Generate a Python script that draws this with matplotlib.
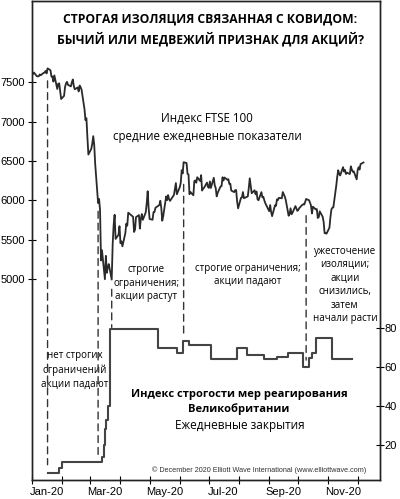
import matplotlib
matplotlib.use('Agg')
import matplotlib.pyplot as plt
import matplotlib.dates as mdates
from matplotlib.patches import ConnectionPatch
import pandas as pd

# FTSE 100 daily closes, one list per month (trading days)
ftse_jan = [7604, 7622, 7575, 7573, 7575, 7598, 7588, 7618, 7622, 7642, 7610,
            7675, 7651, 7571, 7571, 7507, 7586, 7413, 7481, 7484, 7381, 7286]
ftse_feb = [7326, 7439, 7483, 7504, 7466, 7446, 7499, 7534, 7452, 7409,
            7433, 7382, 7457, 7436, 7404, 7157, 7018, 7042, 6796, 6581]
ftse_mar = [6654, 6718, 6815, 6705, 6463, 5966, 6018, 5876, 5237, 5366, 4999,
            5295, 5080, 5151, 5191, 4994, 5446, 5688, 5816, 5510, 5563, 5672]
ftse_apr = [5455, 5480, 5416, 5582, 5704, 5677, 5843, 5791, 5598, 5629,
            5787, 5812, 5641, 5770, 5826, 5752, 5847, 5958, 6115, 5901]
ftse_may = [5763, 5753, 5849, 5853, 5905, 5940, 5994, 5904, 5741, 5800,
            6049, 6002, 6067, 6015, 5993, 6068, 6144, 6219, 6077]
ftse_jun = [6166, 6220, 6382, 6341, 6484, 6473, 6335, 6329, 6077, 6105, 6064,
            6243, 6253, 6224, 6293, 6245, 6320, 6124, 6147, 6159, 6225, 6170]
ftse_jul = [6158, 6240, 6157, 6286, 6190, 6156, 6050, 6095, 6176, 6180, 6293, 6251,
            6290, 6261, 6269, 6207, 6211, 6124, 6104, 6129, 6131, 5990, 5898]
ftse_aug = [6032, 6037, 6105, 6027, 6032, 6050, 6155, 6280, 6186, 6090,
            6127, 6076, 6112, 6013, 6001, 6104, 6037, 6045, 5999, 5964]
ftse_sep = [5862, 5940, 5851, 5799, 5937, 5930, 6012, 6003, 6032, 6026, 6105,
            6078, 6049, 6007, 5804, 5829, 5899, 5823, 5843, 5927, 5897, 5866]
ftse_oct = [5879, 5902, 5942, 5949, 5946, 5978, 6017, 6001, 5970, 5935, 5833,
            5919, 5884, 5889, 5776, 5786, 5860, 5792, 5729, 5583, 5582, 5577]
ftse_nov = [5654, 5786, 5883, 5906, 5910, 6186, 6297, 6382, 6338, 6316, 6421,
            6365, 6385, 6334, 6351, 6334, 6432, 6391, 6362, 6367, 6266]
ftse_dec = [6384, 6420, 6390, 6460, 6480]
uk_holidays = ['2020-01-01', '2020-04-10', '2020-04-13', '2020-05-08',
               '2020-05-25', '2020-08-31']

# UK stringency index, value from each change date onward
strin_dates = ['2020-01-17', '2020-01-29', '2020-02-01', '2020-03-13', '2020-03-15',
               '2020-03-16', '2020-03-17', '2020-03-19', '2020-03-21', '2020-05-10',
               '2020-05-29', '2020-06-04', '2020-06-10', '2020-07-03', '2020-07-30',
               '2020-08-09', '2020-08-27', '2020-09-09', '2020-09-20', '2020-10-06',
               '2020-10-12', '2020-10-15', '2020-10-19', '2020-11-05', '2020-11-25']
strin_vals = [5.56, 8.33, 11.11, 14.0, 20.0, 28.0, 33.0, 40.0, 79.63, 69.91,
              67.13, 73.15, 71.3, 64.35, 69.91, 66.2, 64.1, 65.0, 67.2, 60.0,
              64.8, 67.1, 75.0, 64.0, 64.0]

# dates where a dashed line links the two series
event_dates = ['2020-01-17', '2020-03-09', '2020-03-23', '2020-06-05', '2020-10-09']

ftse_yticks = [5000, 5500, 6000, 6500, 7000, 7500]
strin_yticks = [20, 40, 60, 80]
label_months = [1, 3, 5, 7, 9, 11]

ftse_close = (ftse_jan + ftse_feb + ftse_mar + ftse_apr + ftse_may + ftse_jun +
              ftse_jul + ftse_aug + ftse_sep + ftse_oct + ftse_nov + ftse_dec)
ftse = pd.Series(ftse_close,
                 index=pd.bdate_range('2020-01-02', periods=len(ftse_close),
                                      freq='C', holidays=uk_holidays))
strin = pd.Series(strin_vals, index=pd.to_datetime(strin_dates))

TEXT_FONT = ['Open Sans', 'DejaVu Sans']
TICK_FONT = ['Liberation Sans', 'DejaVu Sans']

fig = plt.figure(figsize=(4.0, 4.99), dpi=100)
ax = fig.add_axes([32 / 400, 19 / 499, 348 / 400, 479 / 499])
ax2 = ax.twinx()

ax.plot(ftse.index, ftse.values, color='#2a2a2a', lw=1.3)
ax2.plot(strin.index, strin.values, color='#444444', lw=1.5, drawstyle='steps-post')

ax.set_xlim(pd.Timestamp('2020-01-01'), pd.Timestamp('2020-12-24'))
ax.set_ylim(2450, 8530)
ax2.set_ylim(2, 248)

# dashed links from the FTSE line down to the stringency line
gaps = [(9, 6), (6, 3), (7, 1), (16, 4), (12, 5)]
for d, (gap_top, gap_bot) in zip(event_dates, gaps):
    d = pd.Timestamp(d)
    top = float(ftse.asof(d))
    bot = float(strin.asof(d))
    xd = mdates.date2num(d)
    con = ConnectionPatch(xyA=(xd, top), coordsA=ax.transData,
                          xyB=(xd, bot), coordsB=ax2.transData,
                          arrowstyle='-', shrinkA=gap_top, shrinkB=gap_bot,
                          color='#333333', lw=1.0, linestyle=(0, (5, 3.5)))
    fig.add_artist(con)

for a in (ax, ax2):
    for s in a.spines.values():
        s.set_linewidth(1.0)
        s.set_color('#222222')

ax.set_yticks(ftse_yticks)
ax.set_yticklabels([str(v) for v in ftse_yticks], fontfamily=TICK_FONT)
ax.tick_params(axis='y', direction='inout', length=6, width=0.8, pad=2, labelsize=8)
ax2.set_yticks(strin_yticks)
ax2.set_yticklabels([str(v) for v in strin_yticks], fontfamily=TICK_FONT)
ax2.tick_params(axis='y', direction='inout', length=6, width=0.8, pad=0.5, labelsize=8)

ax.xaxis.set_major_locator(mdates.MonthLocator())
ax.xaxis.set_major_formatter(plt.NullFormatter())
ax.xaxis.set_minor_locator(mdates.MonthLocator(bymonth=label_months, bymonthday=16))
ax.xaxis.set_minor_formatter(mdates.DateFormatter('%b-%y'))
ax.tick_params(axis='x', which='major', direction='inout', length=6, width=0.8)
ax.tick_params(axis='x', which='minor', length=0, pad=5, labelsize=8)
for lab in ax.get_xticklabels(minor=True):
    lab.set_fontfamily(TICK_FONT)

# titles and labels
ax.text(0.512, 0.9405, 'СТРОГАЯ ИЗОЛЯЦИЯ СВЯЗАННАЯ С КОВИДОМ:\nБЫЧИЙ ИЛИ МЕДВЕЖИЙ ПРИЗНАК ДЛЯ АКЦИЙ?',
        transform=ax.transAxes, ha='center', va='center', fontsize=8.7,
        fontweight='bold', family=TEXT_FONT, linespacing=1.58)
ax.text(0.503, 0.736, 'Индекс FTSE 100\nсредние ежедневные показатели',
        transform=ax.transAxes, ha='center', va='center', fontsize=8.3,
        family=TEXT_FONT, linespacing=1.6)

box = dict(facecolor='white', edgecolor='none', pad=0.5)
ax.text(0.124, 0.2296, 'нет строгих\nограничений\nакции падают', transform=ax.transAxes,
        ha='center', va='center', fontsize=7, family=TEXT_FONT, linespacing=1.35, bbox=box)
ax.text(0.328, 0.411, 'строгие\nограничения;\nакции растут', transform=ax.transAxes,
        ha='center', va='center', fontsize=7, family=TEXT_FONT, linespacing=1.35)
ax.text(0.621, 0.428, 'строгие ограничения;\nакции падают', transform=ax.transAxes,
        ha='center', va='center', fontsize=7, family=TEXT_FONT, linespacing=1.35)
ax.text(0.899, 0.407, 'ужесточение\nизоляции;\nакции\nснизились,\nзатем\nначали расти',
        transform=ax.transAxes, ha='center', va='center', fontsize=7,
        family=TEXT_FONT, linespacing=1.32)

ax.text(0.595, 0.163, 'Индекс строгости мер реагирования\nВеликобритании',
        transform=ax.transAxes, ha='center', va='center', fontsize=8,
        fontweight='bold', family=TEXT_FONT, linespacing=1.4)
ax.text(0.598, 0.113, 'Ежедневные закрытия', transform=ax.transAxes,
        ha='center', va='center', fontsize=8.5, family=TEXT_FONT)
ax.text(0.652, 0.021, '© December 2020 Elliott Wave International (www.elliottwave.com)',
        transform=ax.transAxes, ha='center', va='center', fontsize=5.2,
        family=TICK_FONT, color='#333333')

fig.savefig('out.png', dpi=100)
